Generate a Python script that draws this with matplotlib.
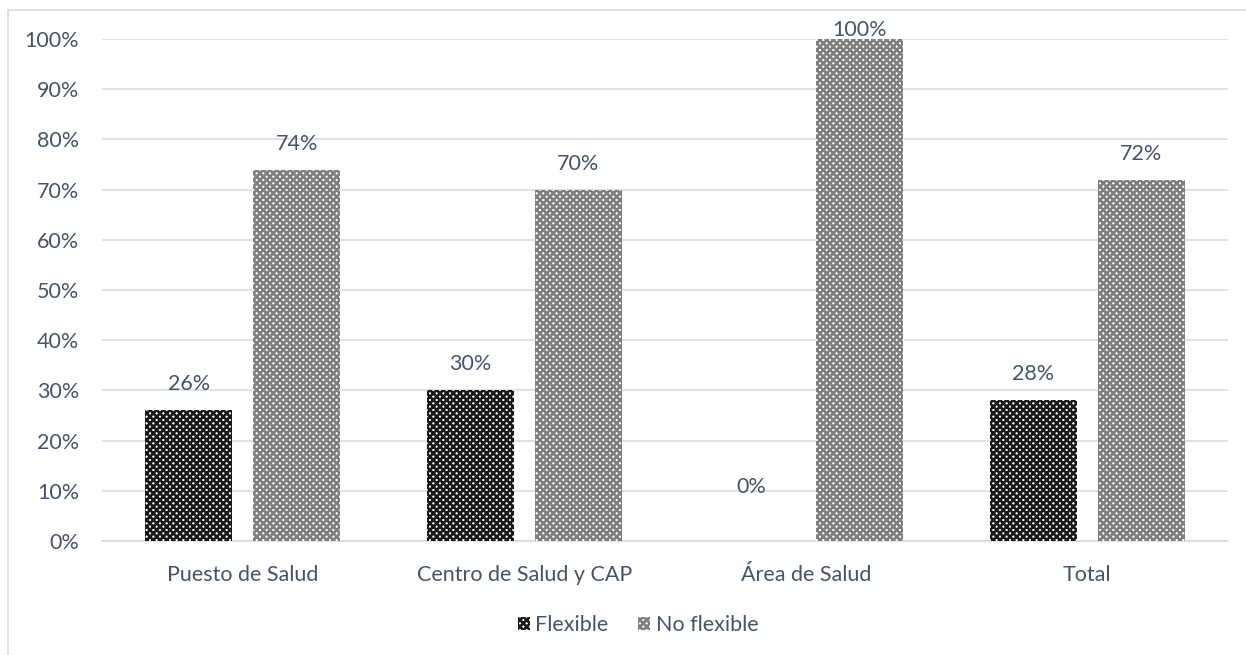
import matplotlib
matplotlib.use("Agg")
import matplotlib.pyplot as plt
from matplotlib.patches import Rectangle
import numpy as np

categories = ["Puesto de Salud", "Centro de Salud y CAP", "Área de Salud", "Total"]
flexible = [26, 30, 0, 28]
no_flexible = [74, 70, 100, 72]
yticks = list(range(0, 101, 10))

TEXT = "#44546A"
GRID = "#D9D9D9"
FS = 15.5

plt.rcParams["font.family"] = ["Lato", "DejaVu Sans"]
plt.rcParams["hatch.linewidth"] = 1.9


def main():
    fig = plt.figure(figsize=(12.46, 6.55), dpi=100)
    ax = fig.add_axes([102 / 1246, 1 - 541 / 655, 1126 / 1246, 502 / 655])

    # chart frame, cut off on the right and bottom
    fig.patches.append(Rectangle((8 / 1246, -0.1), 1.2, 1 - 10 / 655 + 0.1,
                                 transform=fig.transFigure, fill=False,
                                 edgecolor=GRID, linewidth=1.2))

    x = np.arange(len(categories))
    w = 0.31
    off = 0.192
    b1 = ax.bar(x - off, flexible, w, color="white", edgecolor="#1a1a1a",
                hatch="xxxxx", linewidth=0, label="Flexible", zorder=3)
    b2 = ax.bar(x + off, no_flexible, w, color="white", edgecolor="#7f7f7f",
                hatch="xxxxx", linewidth=0, label="No flexible", zorder=3)

    for bars, vals in ((b1, flexible), (b2, no_flexible)):
        for bar, v in zip(bars, vals):
            cx = bar.get_x() + bar.get_width() / 2
            if v >= 100:
                dy = 9
            elif v == 0:
                dy = 54
            else:
                dy = 26
            ax.annotate(f"{v}%", (cx, v), xytext=(0, dy * 0.72),
                        textcoords="offset points", ha="center", va="center",
                        color=TEXT, fontsize=FS, zorder=4)

    ax.set_xlim(-0.5, len(categories) - 0.5)
    ax.set_ylim(0, 100)
    ax.set_yticks(yticks)
    ax.set_yticklabels([f"{t}%" for t in yticks])
    ax.set_xticks(x)
    ax.set_xticklabels(categories)
    ax.tick_params(length=0, labelcolor=TEXT, labelsize=FS)
    ax.tick_params(axis="y", pad=16.5)
    ax.tick_params(axis="x", pad=17)
    ax.grid(axis="y", color=GRID, linewidth=1.1, zorder=0)
    for s in ("top", "right", "left"):
        ax.spines[s].set_visible(False)
    ax.spines["bottom"].set_color(GRID)
    ax.spines["bottom"].set_linewidth(1.1)

    fig.legend(handles=[b1, b2], loc="center", bbox_to_anchor=(638 / 1246, 1 - 625 / 655),
               ncol=2, frameon=False, fontsize=FS, labelcolor=TEXT,
               handlelength=0.55, handleheight=0.55, handletextpad=0.25, columnspacing=1.4)

    fig.savefig("out.png", dpi=100, facecolor="white")


if __name__ == "__main__":
    main()
